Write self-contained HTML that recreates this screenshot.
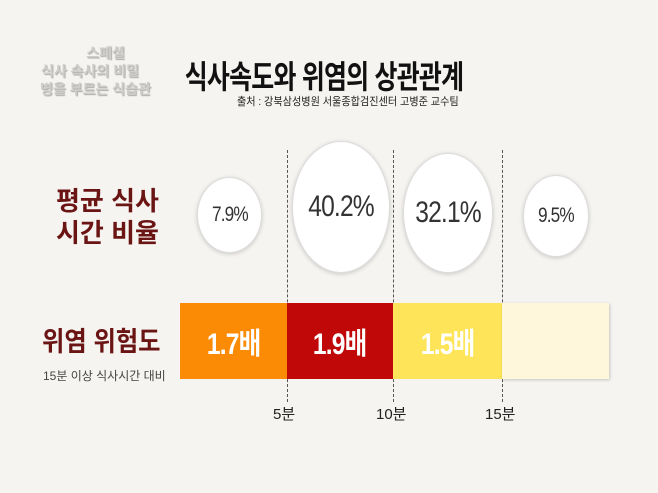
<!DOCTYPE html>
<html><head><meta charset="utf-8"><style>
body{margin:0;width:658px;height:493px;background:#f6f4f0;overflow:hidden;position:relative;font-family:"Liberation Sans","Noto Sans CJK KR",sans-serif}
.a{position:absolute;white-space:nowrap}
.c{position:absolute;border-radius:50%;background:#fff;border:1px solid #ddd;box-shadow:0 1px 4px rgba(0,0,0,.18);display:flex;align-items:center;justify-content:center;color:#333;letter-spacing:-1px}
.c span,.b span{display:inline-block;transform:scaleX(.82)}
.d{position:absolute;top:150px;height:252px;border-left:1px dashed #555}
.b{position:absolute;top:303px;height:76px;display:flex;align-items:center;justify-content:center;color:#fff;font-size:30px;font-weight:bold;letter-spacing:-1px}
</style></head><body>
<div class="a" style="left:40px;top:44px;width:100px;text-align:center;color:#cfcdc9;font-weight:bold;font-size:14px;line-height:18px;text-shadow:1px 1px 1px #aaa">&nbsp;&nbsp;&nbsp;&nbsp;&nbsp;&nbsp;&nbsp;&nbsp;스페셜<br>식사 속사의 비밀<br>병을 부르는 식습관</div>
<div class="a" style="left:144px;top:52px;width:360px;text-align:center;font-size:32px;font-weight:bold;color:#111;letter-spacing:-1px;transform:scaleX(.78)">식사속도와 위염의 상관관계</div>
<div class="a" style="left:237px;top:93px;font-size:11px;color:#222;transform:scaleX(.92);transform-origin:left">출처 : 강북삼성병원 서울종합검진센터 고병준 교수팀</div>
<div class="a" style="left:56px;top:185px;font-size:26px;font-weight:bold;color:#6b1414;line-height:32px;text-align:center;width:95px">평균 식사<br>시간 비율</div>
<div class="a" style="left:42px;top:320px;font-size:27px;font-weight:bold;color:#6b1414;transform:scaleX(.9);transform-origin:left">위염 위험도</div>
<div class="a" style="left:43px;top:367px;font-size:12px;color:#444">15분 이상 식사시간 대비</div>
<div class="d" style="left:287px"></div><div class="d" style="left:393px"></div><div class="d" style="left:502px"></div>
<div class="c" style="left:197px;top:177px;width:63px;height:74px;font-size:21px"><span>7.9%</span></div>
<div class="c" style="left:292px;top:141px;width:96px;height:130px;font-size:30px"><span>40.2%</span></div>
<div class="c" style="left:403px;top:153px;width:88px;height:118px;font-size:30px"><span>32.1%</span></div>
<div class="c" style="left:523px;top:175px;width:64px;height:80px;font-size:21px"><span>9.5%</span></div>
<div class="b" style="left:180px;width:107px;background:#fb8a05"><span>1.7배</span></div>
<div class="b" style="left:287px;width:106px;background:#c00808"><span>1.9배</span></div>
<div class="b" style="left:393px;width:109px;background:#fde458"><span>1.5배</span></div>
<div class="b" style="left:502px;width:107px;background:#fff7dc;box-shadow:1px 1px 3px rgba(0,0,0,.2)"></div>
<div class="a" style="left:273px;top:403px;font-size:15px;color:#222">5분</div>
<div class="a" style="left:376px;top:403px;font-size:15px;color:#222">10분</div>
<div class="a" style="left:485px;top:403px;font-size:15px;color:#222">15분</div>
</body></html>
